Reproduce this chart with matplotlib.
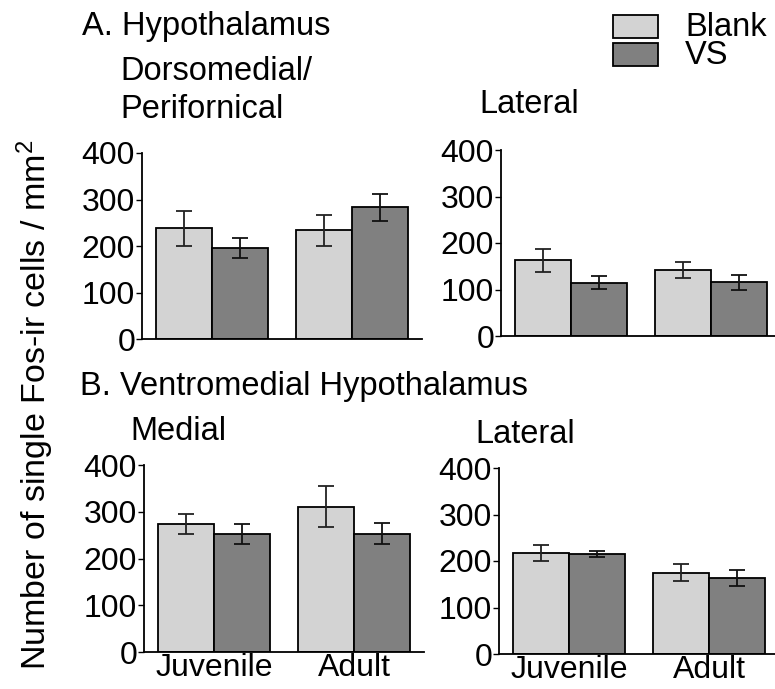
import matplotlib.pyplot as plt
import numpy as np

plt.rcParams['font.family'] = ['Liberation Sans', 'DejaVu Sans']
plt.rcParams['mathtext.default'] = 'regular'

groups = ['Juvenile', 'Adult']
conditions = ['Blank', 'VS']
colors = ['#d3d3d3', '#808080']

# mean and SEM per panel: [Juvenile, Adult]
dm_blank = [238, 234]
dm_blank_err = [38, 33]
dm_vs = [196, 283]
dm_vs_err = [21, 29]

lh_blank = [163, 142]
lh_blank_err = [25, 17]
lh_vs = [115, 116]
lh_vs_err = [13, 16]

vmh_med_blank = [274, 311]
vmh_med_blank_err = [22, 44]
vmh_med_vs = [253, 253]
vmh_med_vs_err = [21, 22]

vmh_lat_blank = [218, 175]
vmh_lat_blank_err = [17, 19]
vmh_lat_vs = [215, 163]
vmh_lat_vs_err = [7, 17]

W, H = 775, 689
FS = 23


def px_axes(fig, left, right, bottom, top):
    return fig.add_axes([left / W, 1 - bottom / H, (right - left) / W, (bottom - top) / H])


def draw_panel(ax, blank, blank_err, vs, vs_err, show_x=False):
    centers = np.array([1.25, 3.75])
    ax.bar(centers - 0.5, blank, width=1, color=colors[0], edgecolor='black',
           linewidth=1.3, yerr=blank_err, capsize=6,
           error_kw=dict(ecolor='#222222', elinewidth=1.3, capthick=1.3), zorder=2)
    ax.bar(centers + 0.5, vs, width=1, color=colors[1], edgecolor='black',
           linewidth=1.3, yerr=vs_err, capsize=6,
           error_kw=dict(ecolor='#111111', elinewidth=1.3, capthick=1.3), zorder=2)
    ax.set_xlim(0, 5)
    ax.set_ylim(0, 400)
    ax.set_yticks([0, 100, 200, 300, 400])
    ax.spines['top'].set_visible(False)
    ax.spines['right'].set_visible(False)
    ax.spines['left'].set_linewidth(1.3)
    ax.spines['bottom'].set_linewidth(1.3)
    ax.tick_params(axis='y', labelsize=FS, length=4, width=1, pad=1)
    if show_x:
        ax.set_xticks(centers)
        ax.set_xticklabels(groups)
        ax.tick_params(axis='x', labelsize=FS, length=0, pad=1)
    else:
        ax.set_xticks([])


fig = plt.figure(figsize=(W / 100, H / 100), dpi=100)

ax1 = px_axes(fig, 142, 422, 339, 153)
ax2 = px_axes(fig, 501, 781, 336, 150)
ax3 = px_axes(fig, 144, 424, 652, 465)
ax4 = px_axes(fig, 499, 779, 654, 468)

draw_panel(ax1, dm_blank, dm_blank_err, dm_vs, dm_vs_err)
draw_panel(ax2, lh_blank, lh_blank_err, lh_vs, lh_vs_err)
draw_panel(ax3, vmh_med_blank, vmh_med_blank_err, vmh_med_vs, vmh_med_vs_err, show_x=True)
draw_panel(ax4, vmh_lat_blank, vmh_lat_blank_err, vmh_lat_vs, vmh_lat_vs_err, show_x=True)


def label(x, y, s, size=FS):
    fig.text(x / W, 1 - y / H, s, fontsize=size, va='baseline', ha='left')


label(82, 35, 'A. Hypothalamus', 23.5)
label(120, 80, 'Dorsomedial/', 23.5)
label(120, 118, 'Perifornical', 23.5)
label(479, 113, 'Lateral', 23.5)
label(80, 395, 'B. Ventromedial Hypothalamus', 23.5)
label(130, 440, 'Medial', 23.5)
label(475, 443, 'Lateral', 23.5)

fig.text(56 / W, 1 - 405 / H, 'Number of single Fos-ir cells / mm$^2$',
         fontsize=24.5, rotation=90, ha='right', va='center')

# legend boxes
for i, (name, col) in enumerate(zip(conditions, colors)):
    top = 15 + i * 28
    fig.patches.append(plt.Rectangle((613 / W, 1 - (top + 23) / H), 45 / W, 23 / H,
                                     transform=fig.transFigure, facecolor=col,
                                     edgecolor='black', linewidth=1.3))
    label(685, top + 21, name, 23.5)

fig.savefig('out.png', dpi=100)
